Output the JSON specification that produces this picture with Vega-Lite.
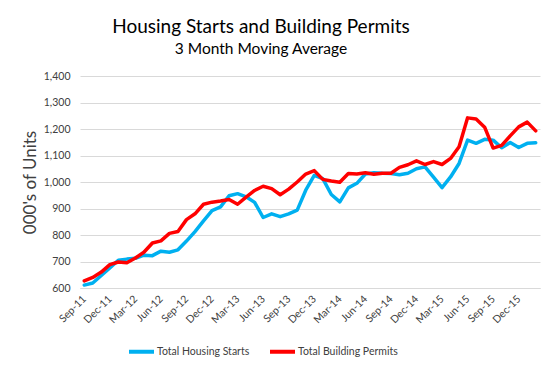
{
  "$schema": "https://vega.github.io/schema/vega-lite/v6.json",
  "width": 460,
  "height": 212,
  "autosize": {"type": "none"},
  "padding": {"left": 80, "top": 76, "right": 20, "bottom": 83},
  "background": "white",
  "config": {"font": "Lato", "view": {"stroke": null}},
  "title": {
    "text": "Housing Starts and Building Permits",
    "subtitle": "3 Month Moving Average",
    "fontSize": 19,
    "subtitleFontSize": 15.5,
    "fontWeight": "normal",
    "color": "#000000",
    "subtitleColor": "#000000",
    "anchor": "middle",
    "frame": "group",
    "dx": -49,
    "offset": 14,
    "subtitlePadding": 5
  },
  "data": {
    "values": [
      {"m": "Sep-11", "starts": 611, "permits": 627},
      {"m": "Oct-11", "starts": 619, "permits": 640},
      {"m": "Nov-11", "starts": 647, "permits": 660},
      {"m": "Dec-11", "starts": 676, "permits": 688},
      {"m": "Jan-12", "starts": 705, "permits": 698},
      {"m": "Feb-12", "starts": 709, "permits": 695},
      {"m": "Mar-12", "starts": 712, "permits": 713},
      {"m": "Apr-12", "starts": 724, "permits": 735},
      {"m": "May-12", "starts": 722, "permits": 770},
      {"m": "Jun-12", "starts": 739, "permits": 778},
      {"m": "Jul-12", "starts": 735, "permits": 806},
      {"m": "Aug-12", "starts": 744, "permits": 813},
      {"m": "Sep-12", "starts": 777, "permits": 858},
      {"m": "Oct-12", "starts": 813, "permits": 880},
      {"m": "Nov-12", "starts": 853, "permits": 916},
      {"m": "Dec-12", "starts": 892, "permits": 924},
      {"m": "Jan-13", "starts": 906, "permits": 928},
      {"m": "Feb-13", "starts": 948, "permits": 934},
      {"m": "Mar-13", "starts": 956, "permits": 916},
      {"m": "Apr-13", "starts": 944, "permits": 943},
      {"m": "May-13", "starts": 923, "permits": 968},
      {"m": "Jun-13", "starts": 866, "permits": 984},
      {"m": "Jul-13", "starts": 880, "permits": 975},
      {"m": "Aug-13", "starts": 869, "permits": 952},
      {"m": "Sep-13", "starts": 880, "permits": 973},
      {"m": "Oct-13", "starts": 894, "permits": 1000},
      {"m": "Nov-13", "starts": 969, "permits": 1030},
      {"m": "Dec-13", "starts": 1025, "permits": 1043},
      {"m": "Jan-14", "starts": 1013, "permits": 1010},
      {"m": "Feb-14", "starts": 953, "permits": 1004},
      {"m": "Mar-14", "starts": 925, "permits": 999},
      {"m": "Apr-14", "starts": 978, "permits": 1032},
      {"m": "May-14", "starts": 995, "permits": 1030},
      {"m": "Jun-14", "starts": 1030, "permits": 1035},
      {"m": "Jul-14", "starts": 1035, "permits": 1029},
      {"m": "Aug-14", "starts": 1033, "permits": 1033},
      {"m": "Sep-14", "starts": 1032, "permits": 1033},
      {"m": "Oct-14", "starts": 1027, "permits": 1055},
      {"m": "Nov-14", "starts": 1033, "permits": 1065},
      {"m": "Dec-14", "starts": 1050, "permits": 1080},
      {"m": "Jan-15", "starts": 1057, "permits": 1066},
      {"m": "Feb-15", "starts": 1018, "permits": 1077},
      {"m": "Mar-15", "starts": 979, "permits": 1066},
      {"m": "Apr-15", "starts": 1019, "permits": 1089},
      {"m": "May-15", "starts": 1070, "permits": 1133},
      {"m": "Jun-15", "starts": 1158, "permits": 1242},
      {"m": "Jul-15", "starts": 1146, "permits": 1238},
      {"m": "Aug-15", "starts": 1161, "permits": 1207},
      {"m": "Sep-15", "starts": 1158, "permits": 1128},
      {"m": "Oct-15", "starts": 1129, "permits": 1138},
      {"m": "Nov-15", "starts": 1149, "permits": 1174},
      {"m": "Dec-15", "starts": 1130, "permits": 1208},
      {"m": "Jan-16", "starts": 1146, "permits": 1226},
      {"m": "Feb-16", "starts": 1148, "permits": 1193}
    ]
  },
  "encoding": {
    "x": {
      "field": "m",
      "type": "ordinal",
      "sort": null,
      "scale": {"type": "point", "padding": 0.5},
      "axis": {
        "title": null,
        "values": ["Sep-11", "Dec-11", "Mar-12", "Jun-12", "Sep-12", "Dec-12", "Mar-13", "Jun-13", "Sep-13", "Dec-13", "Mar-14", "Jun-14", "Sep-14", "Dec-14", "Mar-15", "Jun-15", "Sep-15", "Dec-15"],
        "labelAngle": -45,
        "labelAlign": "right",
        "labelBaseline": "middle",
        "labelPadding": 9,
        "labelFontSize": 10.5,
        "labelColor": "#404040",
        "labelOverlap": false,
        "ticks": false,
        "domainColor": "#d9d9d9",
        "domainWidth": 1,
        "grid": false
      }
    }
  },
  "layer": [
    {
      "mark": {"type": "line", "strokeWidth": 3.5, "strokeJoin": "round", "strokeCap": "round"},
      "encoding": {
        "y": {
          "field": "starts",
          "type": "quantitative",
          "scale": {"domain": [600, 1400], "nice": false, "zero": false},
          "axis": {
            "title": "000's of Units",
            "titleFontSize": 17,
            "titleFontWeight": "normal",
            "titleColor": "#404040",
            "titleX": -45,
            "titleY": 106,
            "titleAngle": -90,
            "titleAlign": "center",
            "titleBaseline": "alphabetic",
            "values": [600, 700, 800, 900, 1000, 1100, 1200, 1300, 1400],
            "format": ",.0f",
            "labelFontSize": 10.5,
            "labelColor": "#404040",
            "labelPadding": 10,
            "labelOverlap": false,
            "ticks": false,
            "domain": false,
            "grid": true,
            "gridColor": "#d9d9d9",
            "gridWidth": 1
          }
        },
        "color": {
          "datum": "Total Housing Starts",
          "type": "nominal",
          "scale": {"domain": ["Total Housing Starts", "Total Building Permits"], "range": ["#00B0F0", "#FF0000"]},
          "legend": {
            "title": null,
            "orient": "none",
            "legendX": 47,
            "legendY": 261,
            "direction": "horizontal",
            "symbolType": "stroke",
            "symbolSize": 625,
            "symbolStrokeWidth": 4,
            "labelFontSize": 10.5,
            "labelColor": "#404040",
            "labelOffset": 1,
            "columnPadding": 12,
            "padding": 0
          }
        }
      }
    },
    {
      "mark": {"type": "line", "strokeWidth": 3.5, "strokeJoin": "round", "strokeCap": "round"},
      "encoding": {
        "y": {
          "field": "permits",
          "type": "quantitative",
          "axis": {
            "title": "000's of Units",
            "titleFontSize": 17,
            "titleFontWeight": "normal",
            "titleColor": "#404040",
            "titleX": -45,
            "titleY": 106,
            "titleAngle": -90,
            "titleAlign": "center",
            "titleBaseline": "alphabetic",
            "values": [600, 700, 800, 900, 1000, 1100, 1200, 1300, 1400],
            "format": ",.0f",
            "labelFontSize": 10.5,
            "labelColor": "#404040",
            "labelPadding": 10,
            "labelOverlap": false,
            "ticks": false,
            "domain": false,
            "grid": true,
            "gridColor": "#d9d9d9",
            "gridWidth": 1
          }
        },
        "color": {"datum": "Total Building Permits", "type": "nominal"}
      }
    }
  ]
}
